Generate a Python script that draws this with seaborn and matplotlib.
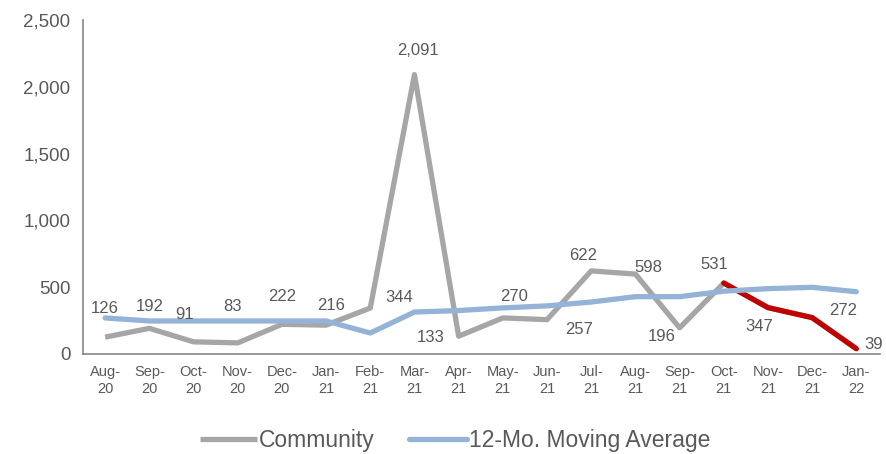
import numpy as np
import pandas as pd
import matplotlib.pyplot as plt
import seaborn as sns

months = ['Aug-\n20', 'Sep-\n20', 'Oct-\n20', 'Nov-\n20', 'Dec-\n20', 'Jan-\n21',
          'Feb-\n21', 'Mar-\n21', 'Apr-\n21', 'May-\n21', 'Jun-\n21', 'Jul-\n21',
          'Aug-\n21', 'Sep-\n21', 'Oct-\n21', 'Nov-\n21', 'Dec-\n21', 'Jan-\n22']
community = [126, 192, 91, 83, 222, 216, 344, 2091, 133, 270, 257, 622,
             598, 196, 531, 347, 272, 39]
moving_avg = [270, 247, 247, 247, 247, 247, 157, 314, 325, 345, 360, 389,
              429, 429, 470, 489, 499, 466]
red_start = 14  # Oct-21 onwards highlighted

# label offsets in pixels (dx, dy up)
label_off = [(0, 29), (0, 22), (-9, 27), (-5, 36), (0, 28), (5, 20), (29, 11),
             (4, 24), (-28, -1), (11, 21), (32, -10), (-8, 15), (13, 7),
             (-18, -9), (-10, 19), (-9, -19), (31, 7), (17, 4)]

df = pd.DataFrame({'x': np.arange(len(months)), 'community': community,
                   'ma': moving_avg})

sns.set_style('white')
plt.rcParams['font.family'] = ['Liberation Sans', 'DejaVu Sans']

GRAY = '#A6A6A6'
BLUE = '#95B3D7'
RED = '#C00000'
TXT = '#595959'

fig = plt.figure(figsize=(8.86, 4.54), dpi=100)
ax = fig.add_axes([0.0937, 0.2203, 0.8993, 0.7357])

sns.lineplot(data=df, x='x', y='community', color=GRAY, lw=3.8, ax=ax,
             label='Community', solid_capstyle='butt')
sns.lineplot(data=df.iloc[red_start:], x='x', y='community', color=RED, lw=3.8,
             ax=ax, label='_nolegend_', solid_capstyle='round')
sns.lineplot(data=df, x='x', y='ma', color=BLUE, lw=3.8, ax=ax,
             label='12-Mo. Moving Average', solid_capstyle='round')

for i, v in enumerate(community):
    dx, dy = label_off[i]
    ax.annotate(f'{v:,}', xy=(i, v), xytext=(dx, dy), textcoords='offset pixels',
                ha='center', va='center', fontsize=12, color=TXT)

ax.set_xlim(-0.5, len(months) - 0.47)
ax.set_ylim(0, 2500)
ax.set_yticks(np.arange(0, 2501, 500))
ax.set_yticklabels([f'{t:,}' for t in range(0, 2501, 500)], fontsize=13.5, color=TXT)
ax.set_xticks(np.arange(len(months)))
ax.set_xticklabels(months, fontsize=10.5, color=TXT, linespacing=1.3)
ax.set_xticks(np.arange(len(months) + 1) - 0.5, minor=True)
ax.tick_params(axis='x', which='major', length=0, pad=8)
ax.tick_params(axis='x', which='minor', length=5, color='#868686', width=1.2)
ax.tick_params(axis='y', length=5, color='#868686', width=1.2, pad=4, direction='out')
ax.set_xlabel('')
ax.set_ylabel('')

for s in ['top', 'right']:
    ax.spines[s].set_visible(False)
for s in ['left', 'bottom']:
    ax.spines[s].set_color('#868686')
    ax.spines[s].set_linewidth(1.2)

leg = ax.legend(loc='center', bbox_to_anchor=(0.467, -0.26), ncol=2,
                frameon=False, handlelength=2.5, handletextpad=0.1,
                columnspacing=1.5, prop={'size': 16.5})
for t in leg.get_texts():
    t.set_color(TXT)

fig.savefig('out.png', dpi=100)
